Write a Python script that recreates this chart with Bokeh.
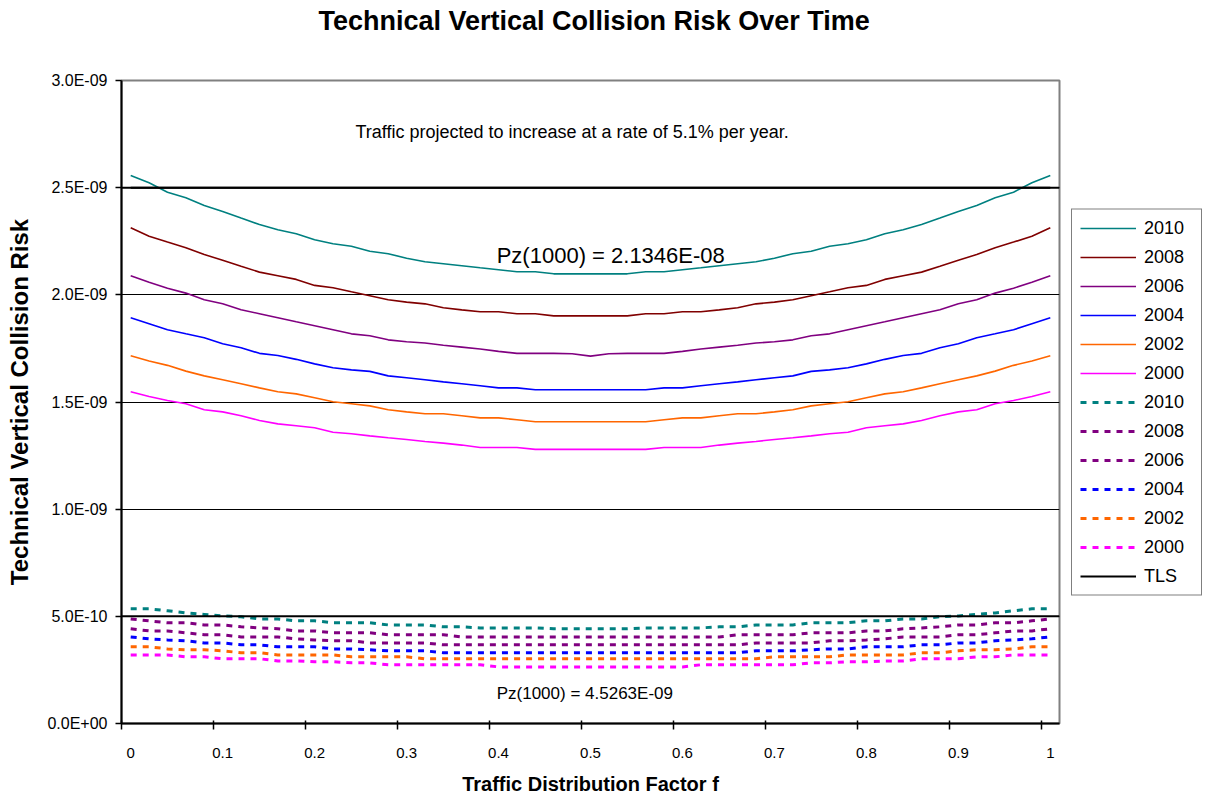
from bokeh.plotting import figure
from bokeh.models import FixedTicker, Label, Legend, LegendItem, Range1d, Span, Title
from bokeh.embed import file_html
from bokeh.resources import INLINE

FONT = "Liberation Sans"

# ---------------- data (values in units of 1E-09) ----------------
f_values = [0.00, 0.02, 0.04, 0.06, 0.08, 0.10, 0.12, 0.14, 0.16, 0.18,
            0.20, 0.22, 0.24, 0.26, 0.28, 0.30, 0.32, 0.34, 0.36, 0.38,
            0.40, 0.42, 0.44, 0.46, 0.48, 0.50, 0.52, 0.54, 0.56, 0.58,
            0.60, 0.62, 0.64, 0.66, 0.68, 0.70, 0.72, 0.74, 0.76, 0.78,
            0.80, 0.82, 0.84, 0.86, 0.88, 0.90, 0.92, 0.94, 0.96, 0.98, 1.00]

years = ["2010", "2008", "2006", "2004", "2002", "2000"]

tech_2010 = [2.557, 2.523, 2.479, 2.453, 2.417, 2.389, 2.358, 2.328, 2.304, 2.285,
             2.257, 2.238, 2.227, 2.203, 2.192, 2.171, 2.154, 2.145, 2.136, 2.126,
             2.117, 2.108, 2.108, 2.098, 2.098, 2.098, 2.098, 2.098, 2.108, 2.108,
             2.117, 2.126, 2.136, 2.145, 2.154, 2.171, 2.192, 2.203, 2.227, 2.238,
             2.257, 2.285, 2.304, 2.328, 2.358, 2.389, 2.417, 2.453, 2.479, 2.523, 2.557]
tech_2008 = [2.313, 2.273, 2.246, 2.220, 2.188, 2.161, 2.133, 2.106, 2.089, 2.072,
             2.044, 2.033, 2.014, 1.996, 1.977, 1.966, 1.958, 1.940, 1.930, 1.921,
             1.921, 1.912, 1.912, 1.902, 1.902, 1.902, 1.902, 1.902, 1.912, 1.912,
             1.921, 1.921, 1.930, 1.940, 1.958, 1.966, 1.977, 1.996, 2.014, 2.033,
             2.044, 2.072, 2.089, 2.106, 2.133, 2.161, 2.188, 2.220, 2.246, 2.273, 2.313]
tech_2006 = [2.089, 2.059, 2.031, 2.008, 1.977, 1.958, 1.930, 1.912, 1.893, 1.874,
             1.856, 1.837, 1.818, 1.809, 1.790, 1.781, 1.775, 1.765, 1.756, 1.747,
             1.736, 1.727, 1.727, 1.727, 1.725, 1.714, 1.725, 1.727, 1.727, 1.727,
             1.736, 1.747, 1.756, 1.765, 1.775, 1.781, 1.790, 1.809, 1.818, 1.837,
             1.856, 1.874, 1.893, 1.912, 1.930, 1.958, 1.977, 2.008, 2.031, 2.059, 2.089]
tech_2004 = [1.893, 1.865, 1.837, 1.818, 1.800, 1.772, 1.753, 1.727, 1.717, 1.699,
             1.678, 1.660, 1.650, 1.643, 1.622, 1.613, 1.604, 1.594, 1.585, 1.576,
             1.566, 1.566, 1.557, 1.557, 1.557, 1.557, 1.557, 1.557, 1.557, 1.566,
             1.566, 1.576, 1.585, 1.594, 1.604, 1.613, 1.622, 1.643, 1.650, 1.660,
             1.678, 1.699, 1.717, 1.727, 1.753, 1.772, 1.800, 1.818, 1.837, 1.865, 1.893]
tech_2002 = [1.716, 1.691, 1.671, 1.644, 1.622, 1.604, 1.585, 1.566, 1.548, 1.538,
             1.520, 1.501, 1.492, 1.482, 1.464, 1.454, 1.445, 1.445, 1.436, 1.426,
             1.426, 1.417, 1.408, 1.408, 1.408, 1.408, 1.408, 1.408, 1.408, 1.417,
             1.426, 1.426, 1.436, 1.445, 1.445, 1.454, 1.464, 1.482, 1.492, 1.501,
             1.520, 1.538, 1.548, 1.566, 1.585, 1.604, 1.622, 1.644, 1.671, 1.691, 1.716]
tech_2000 = [1.548, 1.526, 1.507, 1.492, 1.464, 1.454, 1.436, 1.414, 1.398, 1.389,
             1.380, 1.359, 1.352, 1.342, 1.333, 1.325, 1.316, 1.308, 1.299, 1.288,
             1.288, 1.288, 1.279, 1.279, 1.279, 1.279, 1.279, 1.279, 1.279, 1.288,
             1.288, 1.288, 1.299, 1.308, 1.316, 1.325, 1.333, 1.342, 1.352, 1.359,
             1.380, 1.389, 1.398, 1.414, 1.436, 1.454, 1.464, 1.492, 1.507, 1.526, 1.548]

pz_2010 = [0.535, 0.535, 0.526, 0.516, 0.509, 0.502, 0.498, 0.488, 0.488, 0.479,
           0.479, 0.470, 0.470, 0.470, 0.460, 0.460, 0.460, 0.451, 0.451, 0.446,
           0.446, 0.446, 0.446, 0.442, 0.442, 0.442, 0.442, 0.442, 0.446, 0.446,
           0.446, 0.446, 0.451, 0.451, 0.460, 0.460, 0.460, 0.470, 0.470, 0.470,
           0.479, 0.479, 0.488, 0.488, 0.498, 0.502, 0.509, 0.516, 0.526, 0.535, 0.535]
pz_2008 = [0.488, 0.479, 0.470, 0.470, 0.460, 0.460, 0.451, 0.446, 0.442, 0.432,
           0.432, 0.423, 0.423, 0.423, 0.414, 0.414, 0.414, 0.414, 0.404, 0.404,
           0.404, 0.404, 0.404, 0.404, 0.404, 0.404, 0.404, 0.404, 0.404, 0.404,
           0.404, 0.404, 0.404, 0.414, 0.414, 0.414, 0.414, 0.423, 0.423, 0.423,
           0.432, 0.432, 0.442, 0.446, 0.451, 0.460, 0.460, 0.470, 0.470, 0.479, 0.488]
pz_2006 = [0.442, 0.432, 0.432, 0.423, 0.414, 0.414, 0.404, 0.404, 0.404, 0.395,
           0.390, 0.386, 0.386, 0.376, 0.376, 0.376, 0.376, 0.367, 0.367, 0.367,
           0.367, 0.367, 0.367, 0.367, 0.367, 0.367, 0.367, 0.367, 0.367, 0.367,
           0.367, 0.367, 0.367, 0.367, 0.376, 0.376, 0.376, 0.376, 0.386, 0.386,
           0.390, 0.395, 0.404, 0.404, 0.404, 0.414, 0.414, 0.423, 0.432, 0.432, 0.442]
pz_2004 = [0.404, 0.395, 0.390, 0.386, 0.376, 0.376, 0.367, 0.367, 0.358, 0.358,
           0.358, 0.348, 0.348, 0.344, 0.339, 0.339, 0.339, 0.330, 0.330, 0.330,
           0.330, 0.330, 0.330, 0.330, 0.330, 0.330, 0.330, 0.330, 0.330, 0.330,
           0.330, 0.330, 0.330, 0.330, 0.339, 0.339, 0.339, 0.344, 0.348, 0.348,
           0.358, 0.358, 0.358, 0.367, 0.367, 0.376, 0.376, 0.386, 0.390, 0.395, 0.404]
pz_2002 = [0.358, 0.358, 0.348, 0.344, 0.344, 0.339, 0.330, 0.330, 0.320, 0.320,
           0.320, 0.320, 0.311, 0.311, 0.311, 0.311, 0.302, 0.302, 0.302, 0.302,
           0.302, 0.302, 0.302, 0.302, 0.302, 0.302, 0.302, 0.302, 0.302, 0.302,
           0.302, 0.302, 0.302, 0.302, 0.302, 0.311, 0.311, 0.311, 0.311, 0.320,
           0.320, 0.320, 0.320, 0.330, 0.330, 0.339, 0.344, 0.344, 0.348, 0.358, 0.358]
pz_2000 = [0.320, 0.320, 0.320, 0.311, 0.311, 0.302, 0.302, 0.302, 0.292, 0.292,
           0.288, 0.288, 0.283, 0.283, 0.274, 0.274, 0.274, 0.274, 0.274, 0.274,
           0.264, 0.264, 0.264, 0.264, 0.264, 0.264, 0.264, 0.264, 0.264, 0.264,
           0.264, 0.274, 0.274, 0.274, 0.274, 0.274, 0.274, 0.283, 0.283, 0.288,
           0.288, 0.292, 0.292, 0.302, 0.302, 0.302, 0.311, 0.311, 0.320, 0.320, 0.320]

tls_technical = [2.5] * 51   # TLS (constant), 1E-09 units
tls_pz = 0.5

UNIT = 1e-9

y_ticks = [0.0, 0.5, 1.0, 1.5, 2.0, 2.5, 3.0]
y_tick_labels = ["0.0E+00", "5.0E-10", "1.0E-09", "1.5E-09", "2.0E-09", "2.5E-09", "3.0E-09"]
x_ticks = [0.0, 0.1, 0.2, 0.3, 0.4, 0.5, 0.6, 0.7, 0.8, 0.9, 1.0]
x_tick_labels = ["0", "0.1", "0.2", "0.3", "0.4", "0.5", "0.6", "0.7", "0.8", "0.9", "1"]
x_tick_marks = [-0.01, 0.09, 0.19, 0.29, 0.39, 0.49, 0.59, 0.69, 0.79, 0.89, 0.99]

solid_colors = ["#008080", "#800000", "#800080", "#0000FF", "#FF6600", "#FF00FF"]
dash_colors = ["#008080", "#800080", "#800080", "#0000FF", "#FF6600", "#FF00FF"]

tech_series = [tech_2010, tech_2008, tech_2006, tech_2004, tech_2002, tech_2000]
pz_series = [pz_2010, pz_2008, pz_2006, pz_2004, pz_2002, pz_2000]

# ---------------- figure ----------------
p = figure(frame_width=938, frame_height=643,
           x_range=Range1d(-0.01, 1.01), y_range=Range1d(0, 3.0 * UNIT),
           output_backend="svg", toolbar_location=None,
           min_border_left=121, min_border_right=10,
           min_border_top=80, min_border_bottom=71,
           background_fill_color="white", border_fill_color="white",
           outline_line_color="#808080", outline_line_width=2)

p.title.text = "Technical Vertical Collision Risk Over Time"
p.title.align = "left"
p.title.offset = 197
p.title.text_font = FONT
p.title.text_font_size = "27px"
p.title.text_font_style = "bold"
p.title.text_color = "black"
p.title.standoff = 0
# spacer between title and plot area
p.add_layout(Title(text=" ", text_font_size="10px", standoff=32), "above")

# grid
p.xgrid.visible = False
p.ygrid.ticker = FixedTicker(ticks=[t * UNIT for t in y_ticks[1:-1]])
p.ygrid.grid_line_color = "black"
p.ygrid.grid_line_width = 1
p.ygrid.grid_line_alpha = 1.0

# x axis
xa = p.xaxis[0]
xa.ticker = FixedTicker(ticks=x_ticks, minor_ticks=x_tick_marks)
xa.major_label_overrides = dict(zip(x_ticks, x_tick_labels))
xa.major_tick_out = 0
xa.major_tick_in = 0
xa.minor_tick_out = 6
xa.minor_tick_in = 3
xa.minor_tick_line_color = "black"
xa.minor_tick_line_width = 1.5
xa.axis_line_color = "black"
xa.axis_line_width = 2
xa.major_label_standoff = 18
xa.major_label_text_font = FONT
xa.major_label_text_font_size = "15px"
xa.major_label_text_color = "black"
xa.axis_label = "Traffic Distribution Factor f"
xa.axis_label_text_font = FONT
xa.axis_label_text_font_size = "20px"
xa.axis_label_text_font_style = "bold"
xa.axis_label_text_color = "black"
xa.axis_label_standoff = 12

# y axis
ya = p.yaxis[0]
ya.ticker = FixedTicker(ticks=[t * UNIT for t in y_ticks])
ya.major_label_overrides = {t * UNIT: lab for t, lab in zip(y_ticks, y_tick_labels)}
ya.major_tick_out = 6
ya.major_tick_in = 0
ya.major_tick_line_color = "black"
ya.major_tick_line_width = 1.5
ya.minor_tick_line_color = None
ya.axis_line_color = "black"
ya.axis_line_width = 2
ya.major_label_standoff = 8
ya.major_label_text_font = FONT
ya.major_label_text_font_size = "16px"
ya.major_label_text_color = "black"
ya.axis_label = "Technical Vertical Collision Risk"
ya.axis_label_text_font = FONT
ya.axis_label_text_font_size = "24px"
ya.axis_label_text_font_style = "bold"
ya.axis_label_text_color = "black"
ya.axis_label_standoff = 11

# TLS lines
p.add_layout(Span(location=tls_technical[0] * UNIT, dimension="width",
                  line_color="black", line_width=2))
p.add_layout(Span(location=tls_pz * UNIT, dimension="width",
                  line_color="black", line_width=2))

# series
items = []
for yr, vals, col in zip(years, tech_series, solid_colors):
    r = p.line(f_values, [v * UNIT for v in vals], line_color=col, line_width=1.6)
    items.append(LegendItem(label=yr, renderers=[r]))
for yr, vals, col in zip(years, pz_series, dash_colors):
    r = p.line(f_values, [v * UNIT for v in vals], line_color=col, line_width=3,
               line_dash="6 6")
    items.append(LegendItem(label=yr, renderers=[r]))
r_tls = p.line(f_values, [v * UNIT for v in tls_technical], line_color="black",
               line_width=2)
items.append(LegendItem(label="TLS", renderers=[r_tls]))

legend = Legend(items=items, location="center_left",
                border_line_color="black", border_line_width=1,
                background_fill_color="white", background_fill_alpha=1.0,
                padding=8, spacing=8, margin=12,
                glyph_width=56, glyph_height=21, label_height=21,
                label_standoff=8, label_width=49,
                label_text_font=FONT, label_text_font_size="18px",
                label_text_color="black")
p.add_layout(legend, "right")

# annotations
p.add_layout(Label(x=0.48, y=2.762 * UNIT,
                   text="Traffic projected to increase at a rate of 5.1% per year.",
                   text_align="center", text_baseline="middle",
                   text_font=FONT, text_font_size="18px", text_color="black"))
p.add_layout(Label(x=0.398, y=2.184 * UNIT, text="Pz(1000) = 2.1346E-08",
                   text_align="left", text_baseline="middle",
                   text_font=FONT, text_font_size="22px", text_color="black"))
p.add_layout(Label(x=0.398, y=0.14 * UNIT, text="Pz(1000) = 4.5263E-09",
                   text_align="left", text_baseline="middle",
                   text_font=FONT, text_font_size="17px", text_color="black"))

open("out.html", "w").write(file_html(p, INLINE))
